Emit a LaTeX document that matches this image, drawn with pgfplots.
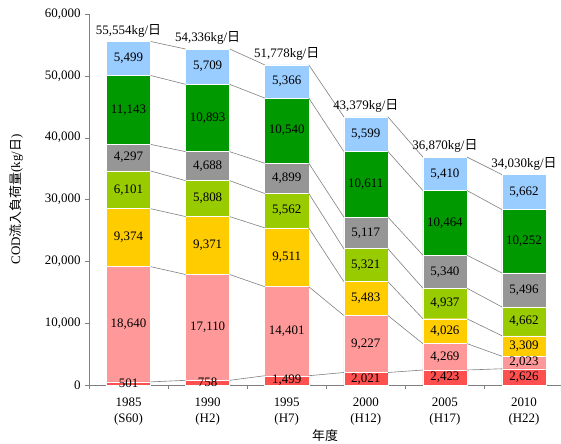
\documentclass[border=0pt]{standalone}
\usepackage{fontspec}
\setmainfont{Liberation Serif}
\newfontfamily\cjk{Noto Sans CJK JP}
\usepackage{pgfplots}
\usepackage{pgfplotstable}
\pgfplotsset{compat=1.18}

\definecolor{c1}{RGB}{255,80,80}
\definecolor{c2}{RGB}{255,153,153}
\definecolor{c3}{RGB}{255,204,0}
\definecolor{c4}{RGB}{153,204,0}
\definecolor{c5}{RGB}{150,150,150}
\definecolor{c6}{RGB}{0,153,0}
\definecolor{c7}{RGB}{153,204,255}
\definecolor{lc}{RGB}{128,128,128}

\pgfplotstableread{
x a b c d e f g tot
0 501 18640 9374 6101 4297 11143 5499 55554
1 758 17110 9371 5808 4688 10893 5709 54336
2 1499 14401 9511 5562 4899 10540 5366 51778
3 2021 9227 5483 5321 5117 10611 5599 43379
4 2423 4269 4026 4937 5340 10464 5410 36870
5 2626 2023 3309 4662 5496 10252 5662 34030
}\data

% connector lines: right edge of a bar to left edge of the next
\pgfplotstableread{
x a b c d e f g
0.2785 501 18640 9374 6101 4297 11143 5499
0.7215 758 17110 9371 5808 4688 10893 5709
nan nan nan nan nan nan nan nan
1.2785 758 17110 9371 5808 4688 10893 5709
1.7215 1499 14401 9511 5562 4899 10540 5366
nan nan nan nan nan nan nan nan
2.2785 1499 14401 9511 5562 4899 10540 5366
2.7215 2021 9227 5483 5321 5117 10611 5599
nan nan nan nan nan nan nan nan
3.2785 2021 9227 5483 5321 5117 10611 5599
3.7215 2423 4269 4026 4937 5340 10464 5410
nan nan nan nan nan nan nan nan
4.2785 2423 4269 4026 4937 5340 10464 5410
4.7215 2626 2023 3309 4662 5496 10252 5662
}\lines

\newcommand\cumul[1]{%
\pgfplotstablecreatecol[create col/expr={\thisrow{a}}]{s1}#1%
\pgfplotstablecreatecol[create col/expr={\thisrow{s1}+\thisrow{b}}]{s2}#1%
\pgfplotstablecreatecol[create col/expr={\thisrow{s2}+\thisrow{c}}]{s3}#1%
\pgfplotstablecreatecol[create col/expr={\thisrow{s3}+\thisrow{d}}]{s4}#1%
\pgfplotstablecreatecol[create col/expr={\thisrow{s4}+\thisrow{e}}]{s5}#1%
\pgfplotstablecreatecol[create col/expr={\thisrow{s5}+\thisrow{f}}]{s6}#1%
\pgfplotstablecreatecol[create col/expr={\thisrow{s6}+\thisrow{g}}]{s7}#1%
}
\cumul\data
\cumul\lines

\pgfplotsset{
  common/.style={
    scale only axis, width=472bp, height=371bp,
    xmin=-0.5, xmax=5.468, ymin=0, ymax=60000,
    /pgf/number format/assume math mode=true,
    /pgf/number format/.cd, fixed, precision=0, 1000 sep={,}, /pgfplots/.cd,
  },
  seg/.style={draw=none, nodes near coords, point meta=explicit,
    every node near coord/.style={anchor=center, font=\fontsize{13}{15}\selectfont, text=black}},
}

\begin{document}
\fontsize{13}{15}\selectfont
\begin{tikzpicture}
\begin{axis}[common,
  ybar stacked, bar width=0.557,
  axis x line*=bottom, axis y line*=left,
  axis line style={-, draw=lc},
  tick align=outside,
  ytick={0,10000,...,60000},
  scaled y ticks=false,
  yticklabel style={/pgf/number format/fixed, /pgf/number format/1000 sep={,}},
  ytick style={draw=lc},
  major tick length=4bp, minor tick length=4bp,
  xtick={0,...,5},
  xticklabels={{1985\\(S60)},{1990\\(H2)},{1995\\(H7)},{2000\\(H12)},{2005\\(H17)},{2010\\(H22)}},
  xticklabel style={align=center, yshift=-4bp},
  major x tick style={draw=none},
  minor xtick={-0.5,0.5,...,4.5},
  minor x tick style={draw=lc},
  tick label style={font=\fontsize{13}{16}\selectfont},
  xlabel={\cjk 年度},
  ylabel={COD{\cjk 流入負荷量}(kg/{\cjk 日})},
  every axis x label/.style={at={(axis description cs:0.5,-0.1375)}, anchor=center, font=\fontsize{13}{15}\selectfont},
  every axis y label/.style={at={(axis description cs:-0.1547,0.5)}, rotate=90, anchor=center, font=\fontsize{13}{15}\selectfont},
]
\addplot[fill=c1, draw=white] table[x=x, y=a]{\data};
\addplot[fill=c2, draw=white] table[x=x, y=b]{\data};
\addplot[fill=c3, draw=white] table[x=x, y=c]{\data};
\addplot[fill=c4, draw=white] table[x=x, y=d]{\data};
\addplot[fill=c5, draw=white] table[x=x, y=e]{\data};
\addplot[fill=c6, draw=white] table[x=x, y=f]{\data};
\addplot[fill=c7, draw=white] table[x=x, y=g]{\data};
\end{axis}
\begin{axis}[common, hide axis, unbounded coords=jump, clip=false]
\addplot[lc, line width=0.6bp] table[x=x, y=s1]{\lines};
\addplot[lc, line width=0.6bp] table[x=x, y=s2]{\lines};
\addplot[lc, line width=0.6bp] table[x=x, y=s3]{\lines};
\addplot[lc, line width=0.6bp] table[x=x, y=s4]{\lines};
\addplot[lc, line width=0.6bp] table[x=x, y=s5]{\lines};
\addplot[lc, line width=0.6bp] table[x=x, y=s6]{\lines};
\addplot[lc, line width=0.6bp] table[x=x, y=s7]{\lines};
% segment value labels
\addplot[seg] table[x=x, y expr=\thisrow{s1}-\thisrow{a}/2, meta=a]{\data};
\addplot[seg] table[x=x, y expr=\thisrow{s2}-\thisrow{b}/2, meta=b]{\data};
\addplot[seg] table[x=x, y expr=\thisrow{s3}-\thisrow{c}/2, meta=c]{\data};
\addplot[seg] table[x=x, y expr=\thisrow{s4}-\thisrow{d}/2, meta=d]{\data};
\addplot[seg] table[x=x, y expr=\thisrow{s5}-\thisrow{e}/2, meta=e]{\data};
\addplot[seg] table[x=x, y expr=\thisrow{s6}-\thisrow{f}/2, meta=f]{\data};
\addplot[seg] table[x=x, y expr=\thisrow{s7}-\thisrow{g}/2, meta=g]{\data};
% totals
\addplot[draw=none, nodes near coords={\pgfmathprintnumber{\pgfplotspointmeta}kg/{\cjk 日}}, point meta=explicit,
  every node near coord/.style={anchor=south, font=\fontsize{13}{15}\selectfont, text=black}]
  table[x=x, y=s7, meta=tot]{\data};
\end{axis}
\pgfresetboundingbox
\path[use as bounding box] (-89bp,-59bp) rectangle (472bp,385bp);
\end{tikzpicture}
\end{document}
